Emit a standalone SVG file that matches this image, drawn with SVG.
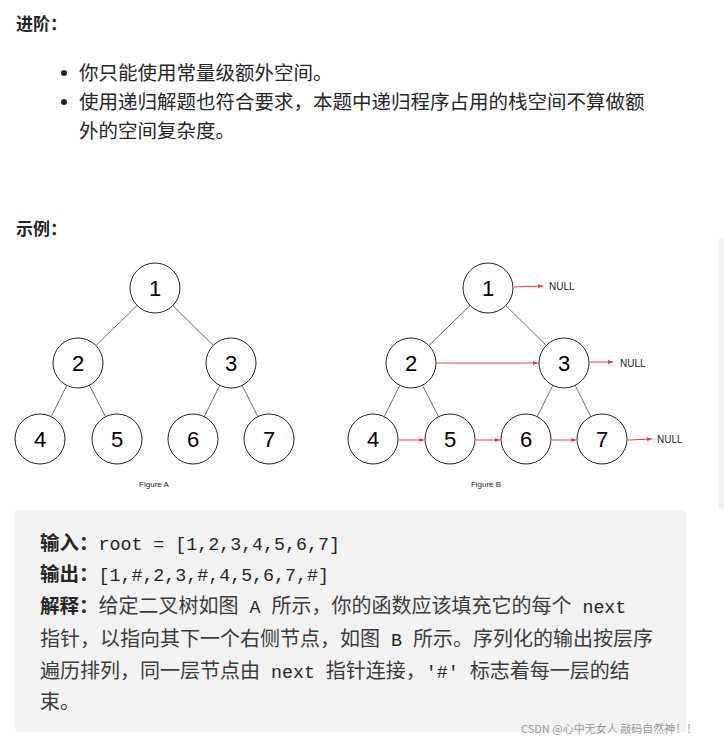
<svg xmlns="http://www.w3.org/2000/svg" width="724" height="744" viewBox="0 0 724 744">
<style>
.t{font-family:"Noto Sans CJK SC",sans-serif;font-size:19.5px;fill:#262626}
.h{font-family:"Noto Sans CJK SC",sans-serif;font-size:17px;font-weight:bold;fill:#262626}
.c{font-family:"Liberation Mono","Noto Sans CJK SC",monospace;font-size:18.3px;fill:#262626}
.cb{font-family:"Noto Sans CJK SC",sans-serif;font-size:19.5px;font-weight:bold;fill:#262626}
.cz{font-family:"Noto Sans CJK SC",sans-serif;font-size:20px;fill:#3c3c3c}
.nd{fill:#fff;stroke:#222;stroke-width:1}
.n{font-family:"Liberation Sans",Arial,sans-serif;font-size:22px;fill:#000;text-anchor:middle}
.e{stroke:#444;stroke-width:0.8}
.r{stroke:#f33;stroke-width:1;marker-end:url(#a)}
.nl{font-family:"Liberation Sans",Arial,sans-serif;font-size:10px;fill:#222}
.cap{font-family:"Liberation Sans",Arial,sans-serif;font-size:8px;fill:#222;text-anchor:middle}
</style>
<defs><marker id="a" markerWidth="6" markerHeight="6" refX="5" refY="3" orient="auto"><path d="M0,1 L5,3 L0,5z" fill="#f33"/></marker></defs>
<rect width="724" height="744" fill="#fff"/>
<rect x="719" y="238" width="5" height="270" fill="#f0f0f0"/>
<text class="h" x="16" y="30">进阶：</text>
<circle cx="64" cy="73" r="3" fill="#262626"/>
<circle cx="64" cy="102" r="3" fill="#262626"/>
<text class="t" x="79" y="80">你只能使用常量级额外空间。</text>
<text class="t" x="79" y="109">使用递归解题也符合要求，本题中递归程序占用的栈空间不算做额</text>
<text class="t" x="79" y="138">外的空间复杂度。</text>
<text class="h" x="16" y="235">示例：</text>
<g id="connectors">
<line class="e" x1="155" y1="288" x2="78" y2="363"/><line class="e" x1="155" y1="288" x2="231" y2="363"/>
<line class="e" x1="78" y1="363" x2="40" y2="439"/><line class="e" x1="78" y1="363" x2="117" y2="439"/>
<line class="e" x1="231" y1="363" x2="193" y2="439"/><line class="e" x1="231" y1="363" x2="269" y2="439"/>
<line class="e" x1="488" y1="288" x2="411" y2="363"/><line class="e" x1="488" y1="288" x2="564" y2="363"/>
<line class="e" x1="411" y1="363" x2="373" y2="439"/><line class="e" x1="411" y1="363" x2="450" y2="439"/>
<line class="e" x1="564" y1="363" x2="526" y2="439"/><line class="e" x1="564" y1="363" x2="602" y2="439"/>
</g>
<g id="A1"><circle class="nd" cx="155" cy="288" r="25"/><text class="n" x="155" y="296">1</text></g>
<g id="A2"><circle class="nd" cx="78" cy="363" r="25"/><text class="n" x="78" y="371">2</text></g>
<g id="A3"><circle class="nd" cx="231" cy="363" r="25"/><text class="n" x="231" y="371">3</text></g>
<g id="A4"><circle class="nd" cx="40" cy="439" r="25"/><text class="n" x="40" y="447">4</text></g>
<g id="A5"><circle class="nd" cx="117" cy="439" r="25"/><text class="n" x="117" y="447">5</text></g>
<g id="A6"><circle class="nd" cx="193" cy="439" r="25"/><text class="n" x="193" y="447">6</text></g>
<g id="A7"><circle class="nd" cx="269" cy="439" r="25"/><text class="n" x="269" y="447">7</text></g>
<text class="cap" x="154" y="487">Figure A</text>
<g id="B1"><circle class="nd" cx="488" cy="288" r="25"/><text class="n" x="488" y="296">1</text></g>
<g id="B2"><circle class="nd" cx="411" cy="363" r="25"/><text class="n" x="411" y="371">2</text></g>
<g id="B3"><circle class="nd" cx="564" cy="363" r="25"/><text class="n" x="564" y="371">3</text></g>
<g id="B4"><circle class="nd" cx="373" cy="439" r="25"/><text class="n" x="373" y="447">4</text></g>
<g id="B5"><circle class="nd" cx="450" cy="439" r="25"/><text class="n" x="450" y="447">5</text></g>
<g id="B6"><circle class="nd" cx="526" cy="439" r="25"/><text class="n" x="526" y="447">6</text></g>
<g id="B7"><circle class="nd" cx="602" cy="439" r="25"/><text class="n" x="602" y="447">7</text></g>
<g id="nextlinks">
<line class="r" x1="514" y1="287" x2="543" y2="286"/>
<line class="r" x1="437" y1="363" x2="538" y2="363"/>
<line class="r" x1="590" y1="362" x2="613" y2="362"/>
<line class="r" x1="399" y1="440" x2="424" y2="440"/>
<line class="r" x1="476" y1="440" x2="500" y2="440"/>
<line class="r" x1="552" y1="440" x2="576" y2="440"/>
<line class="r" x1="628" y1="440" x2="652" y2="439"/>
</g>
<text class="nl" x="549" y="290">NULL</text>
<text class="nl" x="620" y="367">NULL</text>
<text class="nl" x="657" y="443">NULL</text>
<text class="cap" x="486" y="487">Figure B</text>
<rect x="15" y="510" width="671" height="222" rx="4" fill="#f2f2f2"/>
<text x="40" y="550"><tspan class="cb">输入：</tspan><tspan class="c">root = [1,2,3,4,5,6,7]</tspan></text>
<text x="40" y="581"><tspan class="cb">输出：</tspan><tspan class="c">[1,#,2,3,#,4,5,6,7,#]</tspan></text>
<text x="40" y="613"><tspan class="cb">解释：</tspan><tspan class="cz">给定二叉树如图</tspan><tspan class="c">&#160;A&#160;</tspan><tspan class="cz">所示，你的函数应该填充它的每个</tspan><tspan class="c">&#160;next</tspan></text>
<text x="40" y="646"><tspan class="cz">指针，以指向其下一个右侧节点，如图</tspan><tspan class="c">&#160;B&#160;</tspan><tspan class="cz">所示。序列化的输出按层序</tspan></text>
<text x="40" y="678"><tspan class="cz">遍历排列，同一层节点由</tspan><tspan class="c">&#160;next&#160;</tspan><tspan class="cz">指针连接，</tspan><tspan class="c">'#'&#160;</tspan><tspan class="cz">标志着每一层的结</tspan></text>
<text x="40" y="709"><tspan class="cz">束。</tspan></text>
<text x="521" y="733" style="font-family:'Noto Sans CJK SC',sans-serif;font-size:11px;fill:#999">CSDN @心中无女人 敲码自然神！！</text>
</svg>
